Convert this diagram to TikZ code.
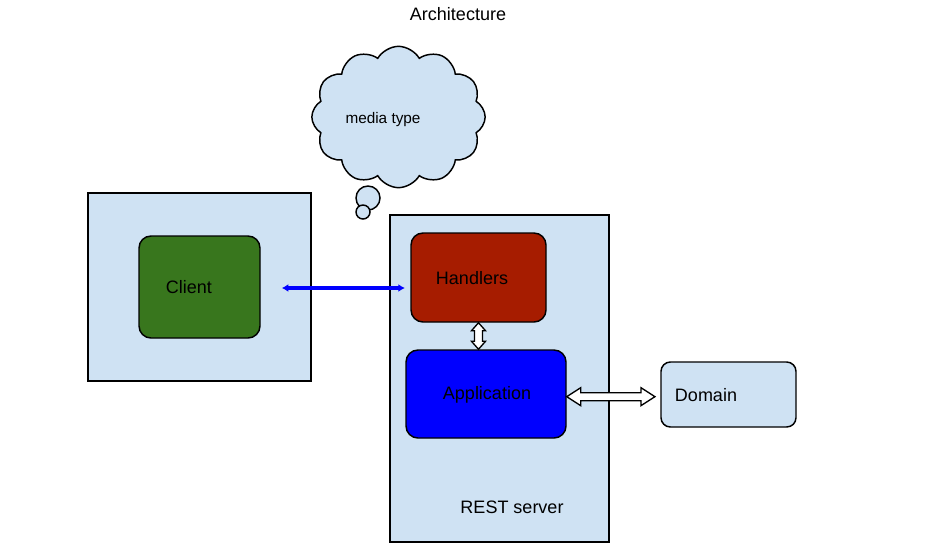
\documentclass[tikz,border=0pt]{standalone}
\usepackage{fontspec}
\setmainfont{Liberation Sans}
\usetikzlibrary{arrows.meta, positioning, calc, shapes.symbols}
\definecolor{PaleBlue}{HTML}{CFE2F3}
\definecolor{LeafGreen}{HTML}{38761D}
\definecolor{BrickRed}{HTML}{A61C00}
\definecolor{PureBlue}{HTML}{0000FF}

\begin{document}
\begin{tikzpicture}[x=0.75pt, y=-0.75pt,
    panel/.style={draw=black, line width=1.1pt, fill=PaleBlue, inner sep=0pt},
    block/.style={draw=black, line width=1.1pt, rounded corners=9pt, inner sep=0pt},
    txt/.style={font=\fontsize{13.5pt}{15pt}\selectfont, text=black},
    fatarrow/.style={draw=black, fill=white, line width=1pt, line join=miter}]
    \useasboundingbox[fill=white] (0,0) rectangle (941,547);

    \node[txt] (title) at (458,14) {Architecture};

    % thought cloud
    \node[cloud, cloud puffs=12, cloud puff arc=120, cloud ignores aspect, draw=black, line width=1.1pt,
          fill=PaleBlue, minimum width=130pt, minimum height=106pt, inner sep=0pt] (cloud) at (398.5,117) {};
    \filldraw[fill=PaleBlue, draw=black, line width=1.1pt] (368,198) circle (9pt);
    \filldraw[fill=PaleBlue, draw=black, line width=1.1pt] (363,212) circle (5.25pt);
    \node[font=\fontsize{11.5pt}{13pt}\selectfont] (media) at (383,120) {media type};

    % client side
    \node[panel, minimum width=167.25pt, minimum height=141pt] (clientbox) at (199.5,287) {};
    \node[block, fill=LeafGreen, minimum width=90.75pt, minimum height=76.5pt] (client) at (199.5,287) {};
    \node[txt] (clientlbl) at (189,287) {Client};

    % server side
    \node[panel, minimum width=164.25pt, minimum height=245.25pt] (server) at (499.5,378.5) {};
    \node[txt] (serverlbl) at (512,507) {REST server};
    \node[block, fill=BrickRed, minimum width=101.25pt, minimum height=66.75pt] (handlers) at (478.5,277.5) {};
    \node[txt] (handlerslbl) at (472,278) {Handlers};
    \node[block, fill=PureBlue, minimum width=120pt, minimum height=66pt] (app) at (486,394) {};
    \node[txt] (applbl) at (487,395) {Application};

    \node[block, fill=PaleBlue, rounded corners=7pt, minimum width=101.25pt, minimum height=48.75pt] (domain) at (728.5,394.5) {};
    \node[txt] (domainlbl) at (706,395) {Domain};

    % links
    \draw[PureBlue, line width=3pt, {Latex[length=5pt,width=6pt]}-{Latex[length=5pt,width=6pt]}, shorten <=15.75pt, shorten >=4pt]
        ([yshift=-0.75pt]client.east) -- ([yshift=-0.75pt]client.east -| handlers.west);

    \coordinate (va) at (handlers.south);
    \coordinate (vb) at (handlers.south |- app.north);
    \draw[fatarrow] (va) -- ++(7,8) -- ++(-3,0) -- ($(vb)+(4,-8)$) -- ++(3,0) -- (vb)
        -- ++(-7,-8) -- ++(3,0) -- ($(va)+(-4,8)$) -- ++(-3,0) -- cycle;

    \coordinate (ha) at ([yshift=-2pt]app.east);
    \coordinate (hb) at ([xshift=-4pt]ha -| domain.west);
    \draw[fatarrow] (ha) -- ++(14,-9) -- ++(0,5) -- ($(hb)+(-14,-4)$) -- ++(0,-5) -- (hb)
        -- ++(-14,9) -- ++(0,-5) -- ($(ha)+(14,4)$) -- ++(0,5) -- cycle;
\end{tikzpicture}
\end{document}
